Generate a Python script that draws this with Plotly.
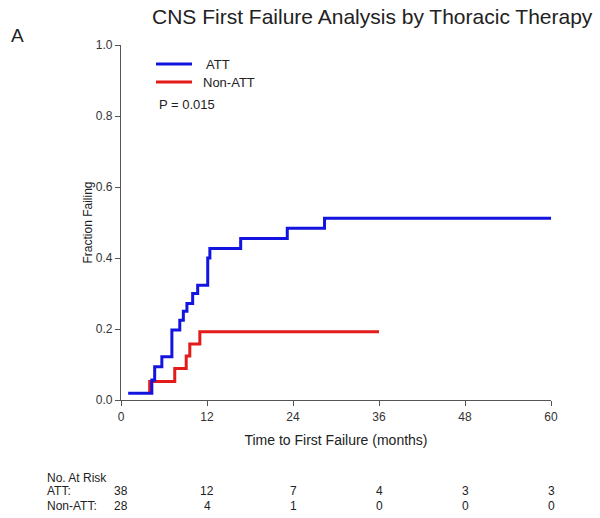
import plotly.graph_objects as go

# ---- data ----
att_time = [1.0, 4.3, 4.7, 5.7, 7.1, 8.2, 8.7, 9.2, 10.0, 10.7, 12.1, 12.4, 16.7, 23.2, 28.4, 60.0]
att_frac = [0.019, 0.056, 0.094, 0.122, 0.197, 0.225, 0.25, 0.272, 0.30, 0.323, 0.40, 0.427, 0.455, 0.484, 0.512, 0.512]

non_time = [4.0, 4.0, 7.5, 9.1, 9.6, 11.0, 36.0]
non_frac = [0.019, 0.052, 0.089, 0.124, 0.158, 0.192, 0.192]

risk_times = [0, 12, 24, 36, 48, 60]
risk_att = [38, 12, 7, 4, 3, 3]
risk_non = [28, 4, 1, 0, 0, 0]

x_ticks = [0, 12, 24, 36, 48, 60]
y_ticks = [0.0, 0.2, 0.4, 0.6, 0.8, 1.0]

BLUE = "#1414e0"
RED = "#e31b1b"
FONT = "Liberation Sans, Arial, sans-serif"
TXT = "#222222"

fig = go.Figure()
fig.add_trace(go.Scatter(x=non_time, y=non_frac, mode="lines", line=dict(color=RED, width=3, shape="hv"),
                         name="Non-ATT", showlegend=False, hoverinfo="skip"))
fig.add_trace(go.Scatter(x=att_time, y=att_frac, mode="lines", line=dict(color=BLUE, width=3, shape="hv"),
                         name="ATT", showlegend=False, hoverinfo="skip"))

# plot area geometry (pixels) for paper-coordinate helpers
L, R, T, B = 121, 49, 45, 118
W, H = 600, 518
PW, PH = W - L - R, H - T - B

def px(xp):
    return (xp - L) / PW

def py(yp):
    return (H - B - yp) / PH

fig.update_layout(
    width=W, height=H,
    margin=dict(l=L, r=R, t=T, b=B),
    plot_bgcolor="white", paper_bgcolor="white",
    font=dict(family=FONT, color=TXT, size=12),
    xaxis=dict(range=[0, 60], tickvals=x_ticks, ticktext=[str(v) for v in x_ticks],
               showgrid=False, zeroline=False, showline=True, linecolor="#555", linewidth=1.2,
               ticks="outside", ticklen=5, tickcolor="#555", tickfont=dict(size=12, color="#333"),
               title=dict(text="Time to First Failure (months)", font=dict(size=14, color=TXT), standoff=12)),
    yaxis=dict(range=[0, 1.0], tickvals=y_ticks, tickformat=".1f",
               showgrid=False, zeroline=False, showline=True, linecolor="#555", linewidth=1.2,
               ticks="outside", ticklen=5, tickcolor="#555", tickfont=dict(size=12, color="#333"),
               title=dict(text="Fraction Failing", font=dict(size=12, color=TXT), standoff=0)),
    showlegend=False,
)

ann = []
ann.append(dict(text="CNS First Failure Analysis by Thoracic Therapy", xref="paper", yref="paper",
                x=px(372), y=py(16), xanchor="center", yanchor="middle", showarrow=False,
                font=dict(size=21, color=TXT)))
ann.append(dict(text="A", xref="paper", yref="paper", x=px(9), y=py(35), xanchor="left", yanchor="middle",
                showarrow=False, font=dict(size=19, color=TXT)))

# manual legend
fig.add_shape(type="line", xref="paper", yref="paper", x0=px(156), x1=px(192), y0=py(64), y1=py(64),
              line=dict(color=BLUE, width=3))
fig.add_shape(type="line", xref="paper", yref="paper", x0=px(156), x1=px(192), y0=py(82), y1=py(82),
              line=dict(color=RED, width=3))
ann.append(dict(text="ATT", xref="paper", yref="paper", x=px(204), y=py(64), xanchor="left", yanchor="middle",
                showarrow=False, font=dict(size=13, color=TXT)))
ann.append(dict(text="Non-ATT", xref="paper", yref="paper", x=px(201), y=py(82), xanchor="left", yanchor="middle",
                showarrow=False, font=dict(size=13, color=TXT)))
ann.append(dict(text="P = 0.015", xref="paper", yref="paper", x=px(157), y=py(104), xanchor="left", yanchor="middle",
                showarrow=False, font=dict(size=13, color=TXT)))

# number at risk table
ann.append(dict(text="No. At Risk", xref="paper", yref="paper", x=px(45), y=py(478), xanchor="left",
                yanchor="middle", showarrow=False, font=dict(size=12, color=TXT)))
ann.append(dict(text="ATT:", xref="paper", yref="paper", x=px(45), y=py(491), xanchor="left",
                yanchor="middle", showarrow=False, font=dict(size=12, color=TXT)))
ann.append(dict(text="Non-ATT:", xref="paper", yref="paper", x=px(45), y=py(506), xanchor="left",
                yanchor="middle", showarrow=False, font=dict(size=12, color=TXT)))
for t, a, n in zip(risk_times, risk_att, risk_non):
    ann.append(dict(text=str(a), xref="x", yref="paper", x=t, y=py(491), xanchor="center", yanchor="middle",
                    showarrow=False, font=dict(size=12, color=TXT)))
    ann.append(dict(text=str(n), xref="x", yref="paper", x=t, y=py(506), xanchor="center", yanchor="middle",
                    showarrow=False, font=dict(size=12, color=TXT)))

fig.update_layout(annotations=ann)
fig.write_html("out.html", config={"displayModeBar": False},
               post_script="document.body.style.margin='0';document.body.style.overflow='hidden';")
